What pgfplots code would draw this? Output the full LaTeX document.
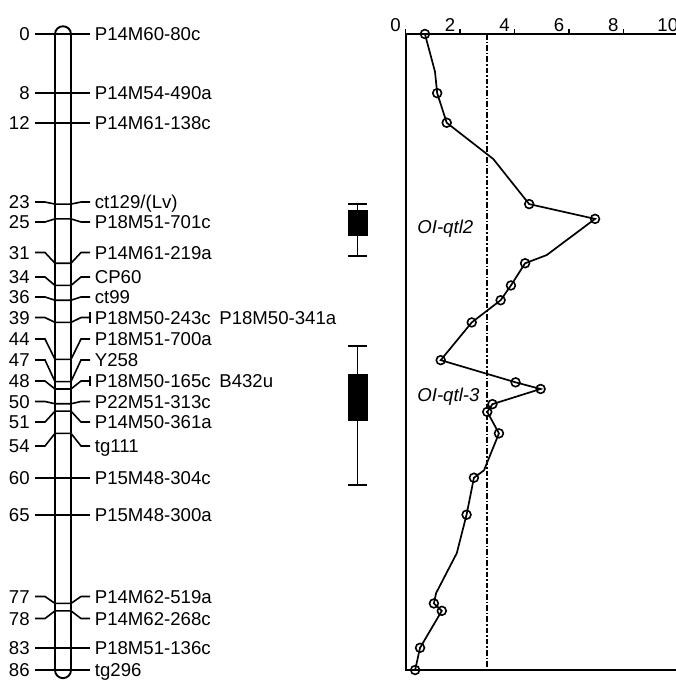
\documentclass[border=0pt]{standalone}
\usepackage{fontspec}
\setmainfont{Liberation Sans}
\usepackage{pgfplots}
\pgfplotsset{compat=1.18}
\tikzset{
  mapline/.style={black, line width=0.8pt, mark=none},
  lnum/.style={anchor=base east, inner sep=0pt, yshift=-3.3pt},
  lname/.style={anchor=base west, inner sep=0pt, yshift=-3.3pt},
}
\newcommand\straight[3]{%
  \addplot[mapline] coordinates {(35,#1)(90,#1)};
  \node[lnum] at (axis cs:30,#1) {#2};
  \node[lname] at (axis cs:94.5,#1) {#3};}
\newcommand\bent[4]{%
  \addplot[mapline] coordinates {(35,#1)(45,#1)(55,#2)(71,#2)(81,#1)(90,#1)};
  \node[lnum] at (axis cs:30,#1) {#3};
  \node[lname] at (axis cs:94.5,#1) {#4};}
\begin{document}
\begin{tikzpicture}[font=\fontsize{9.3}{11}\selectfont]
% ---------- linkage map (x in picture units, y in cM) ----------
\begin{axis}[at={(168.75pt,170pt)}, anchor=center, scale only axis,
  width=337.5pt, height=340pt, xmin=0, xmax=675,
  ymin=-4.5975, ymax=87.353, y dir=reverse, hide axis, clip=false]
\straight{0}{0}{P14M60-80c}
\straight{8}{8}{P14M54-490a}
\straight{12}{12}{P14M61-138c}
\bent{22.72}{23}{23}{ct129/(Lv)}
\bent{25.42}{25}{25}{P18M51-701c}
\bent{29.55}{31}{31}{P14M61-219a}
\bent{32.86}{34}{34}{CP60}
\bent{35.56}{36}{36}{ct99}
\bent{38.34}{39}{39}{P18M50-243c}
\node[lname] at (axis cs:219,38.34) {P18M50-341a};
\addplot[mapline] coordinates {(90,37.64)(90,39.04)};
\bent{41.24}{44}{44}{P18M51-700a}
\bent{44.08}{47}{47}{Y258}
\bent{46.92}{48}{48}{P18M50-165c}
\node[lname] at (axis cs:219,46.92) {B432u};
\addplot[mapline] coordinates {(90,46.22)(90,47.62)};
\bent{49.69}{50}{50}{P22M51-313c}
\bent{52.47}{51}{51}{P14M50-361a}
\bent{55.71}{54}{54}{tg111}
\straight{60}{60}{P15M48-304c}
\straight{65}{65}{P15M48-300a}
\bent{76.06}{77}{77}{P14M62-519a}
\bent{79.04}{78}{78}{P14M62-268c}
\straight{83}{83}{P18M51-136c}
\straight{86}{86}{tg296}
% chromosome outline
\addplot[black, line width=0.95pt, mark=none, rounded corners=4pt]
  coordinates {(55,-1.05)(71,-1.05)(71,87.1)(55,87.1)} -- cycle;
% QTL intervals
\addplot[black, line width=0.9pt, mark=none] coordinates {(357.5,23.0)(357.5,30.0)};
\addplot[black, line width=0.9pt, mark=none] coordinates {(348,23.0)(367,23.0)};
\addplot[black, line width=0.9pt, mark=none] coordinates {(348,30.0)(367,30.0)};
\addplot[black, fill=black, line width=0.5pt, mark=none]
  coordinates {(348,23.9)(367,23.9)(367,27.2)(348,27.2)} -- cycle;
\addplot[black, line width=0.9pt, mark=none] coordinates {(357.5,42.15)(357.5,61.0)};
\addplot[black, line width=0.9pt, mark=none] coordinates {(348,42.15)(367,42.15)};
\addplot[black, line width=0.9pt, mark=none] coordinates {(348,61.0)(367,61.0)};
\addplot[black, fill=black, line width=0.5pt, mark=none]
  coordinates {(348,46.0)(367,46.0)(367,52.2)(348,52.2)} -- cycle;
\node[anchor=base west, inner sep=0pt, font=\fontsize{9.3}{11}\selectfont\itshape] at (axis cs:417,26.95) {OI-qtl2};
\node[anchor=base west, inner sep=0pt, font=\fontsize{9.3}{11}\selectfont\itshape] at (axis cs:417,49.63) {OI-qtl-3};
\end{axis}
% ---------- LOD profile ----------
\begin{axis}[at={(272.89pt,164pt)}, anchor=center, scale only axis,
  width=140.18pt, height=318pt,
  xmin=0, xmax=10.3, ymin=0, ymax=86, y dir=reverse,
  xtick={0,2,4,6,8,10}, ytick=\empty,
  xtick pos=upper, xticklabel pos=upper,
  tick align=outside, major tick length=2.5pt,
  axis line style={line width=1.1pt},
  every tick/.style={black, line width=0.8pt},
  xticklabel style={anchor=south, inner sep=0pt, xshift=-5pt, yshift=-1.5pt},
  /pgf/number format/assume math mode=true,
  clip=false]
\addplot[black, dash pattern=on 2.8pt off 1pt on 0.8pt off 1pt, line width=0.9pt, mark=none]
  coordinates {(3.0,0)(3.0,85.6)};
\addplot[black, line width=0.85pt, mark=none] coordinates {
 (0.71,0) (1.08,5.1) (1.16,8) (1.51,12) (3.22,16.9) (4.54,23) (6.96,25)
 (5.18,29.9) (4.39,31) (3.87,34) (3.49,36) (2.43,39) (1.29,44.1) (4.04,47.1)
 (4.96,48) (3.19,50.05) (3.00,51.1) (3.43,54) (2.88,59) (2.51,60) (2.24,65)
 (1.88,70.2) (1.12,75.6) (1.04,77) (1.33,78) (0.53,83) (0.35,86)};
\addplot[black, only marks, mark=o, mark size=2.2pt, mark options={line width=0.8pt}] coordinates {
 (0.71,0) (1.16,8) (1.51,12) (4.54,23) (6.96,25) (4.39,31) (3.87,34) (3.49,36)
 (2.43,39) (1.29,44.1) (4.04,47.1) (4.96,48) (3.19,50.05) (3.00,51.1) (3.43,54)
 (2.51,60) (2.24,65) (1.04,77) (1.33,78) (0.53,83) (0.35,86)};
\end{axis}
\pgfresetboundingbox
\path[use as bounding box] (0,0) rectangle (337.5pt,340pt);
\end{tikzpicture}
\end{document}
